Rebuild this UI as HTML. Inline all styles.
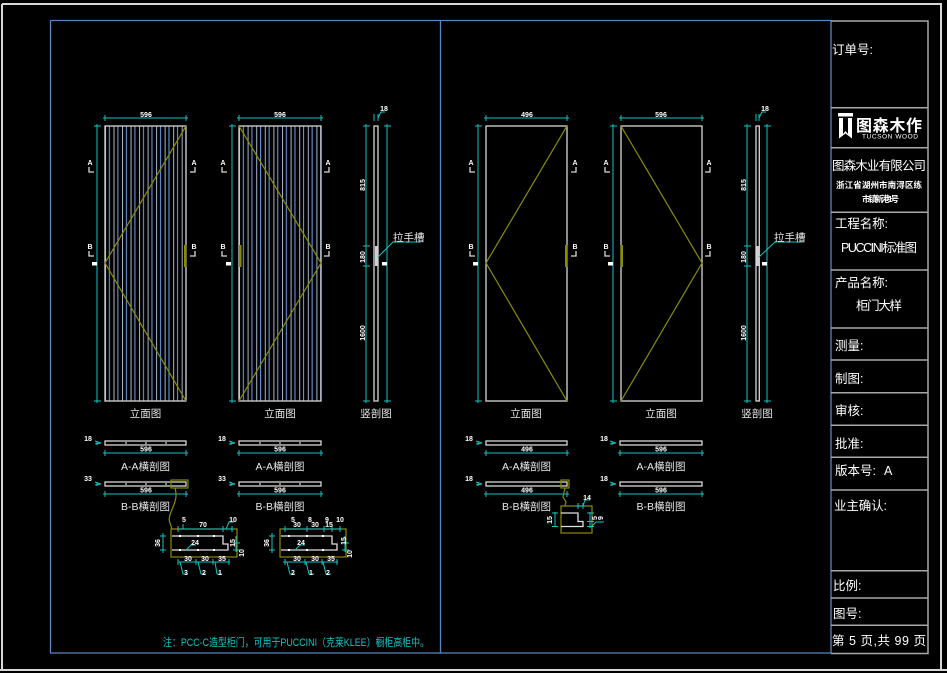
<!DOCTYPE html>
<html><head><meta charset="utf-8"><style>
html,body{margin:0;padding:0;background:#000;}
svg{display:block;}
text{font-family:"Liberation Sans","Noto Sans CJK SC",sans-serif;}
.t{fill:#fff;font-size:12.5px;}
.s{fill:#fff;font-size:7px;font-weight:bold;}
.lb{fill:#e8e8e8;font-size:10.5px;}
.c{stroke:#12c4c4;stroke-width:1;fill:none;}
.o{stroke:#8c8c00;stroke-width:1.2;fill:none;}
.w{stroke:#d8d8d8;stroke-width:1.3;fill:none;}
.g{stroke:#a8a8a8;stroke-width:1.5;fill:none;}
</style></head><body>
<svg width="947" height="673" viewBox="0 0 947 673" xmlns="http://www.w3.org/2000/svg">
<defs>
<pattern id="p1" x="105" y="0" width="8.52" height="10" patternUnits="userSpaceOnUse">
<rect x="3.8" y="0" width="1.1" height="10" fill="#6a92d8"/><rect x="0" y="0" width="1" height="10" fill="#a9b4c8"/>
</pattern>
<pattern id="p2" x="239" y="0" width="8.6" height="10" patternUnits="userSpaceOnUse">
<rect x="3.8" y="0" width="1.1" height="10" fill="#6a92d8"/><rect x="0" y="0" width="1" height="10" fill="#a9b4c8"/>
</pattern>
</defs>
<rect width="947" height="673" fill="#000"/>
<!-- outer white frame -->
<path d="M2,4 H942 M2,4 V670 M941,4 V670 M0,670 H947" stroke="#d8d8d8" stroke-width="2" fill="none"/>
<!-- blue frame -->
<path d="M50.5,20.5 H831 M50.5,20.5 V653 M50,653 H831 M831,20 V653 M440.5,20 V653" stroke="#5a85c0" stroke-width="1.3" fill="none"/>
<!-- title block -->
<path class="g" d="M831,21 H928 V653.5 H831 M831,107.7 H928 M831,147.7 H928 M831,212.3 H928 M831,270 H928 M831,328 H928 M831,360 H928 M831,392.7 H928 M831,425.3 H928 M831,457.3 H928 M831,490 H928 M831,570.7 H928 M831,598 H928 M831,625.3 H928"/>
<text class="t" x="832" y="54" font-size="13">订单号:</text>
<!-- logo -->
<path d="M838,113 H853 V116.5 H838 Z M839,118 H843 V134 L845.5,131 L848,134 V118 H852 V138.5 L845.5,133.5 L839,138.5 Z" fill="#fff"/>
<text x="856" y="131" fill="#fff" font-size="16" font-weight="bold" textLength="66">图森木作</text>
<text x="862" y="138.5" fill="#fff" font-size="6.5" textLength="56">TUCSON WOOD</text>
<text class="t" x="832" y="170" textLength="94" font-size="12">图森木业有限公司</text>
<text x="836" y="188" fill="#fff" font-size="8.5" font-weight="bold" textLength="86">浙江省湖州市南浔区练</text>
<text x="862" y="202" fill="#fff" font-size="8.5" font-weight="bold" textLength="37">市镇新港1号</text>
<text class="t" x="835" y="228" textLength="53">工程名称:</text>
<text class="t" x="841" y="252" textLength="76">PUCCINI标准图</text>
<text class="t" x="835" y="287" textLength="53">产品名称:</text>
<text class="t" x="856" y="310" font-size="13.5" textLength="46">柜门大样</text>
<text class="t" x="835" y="350">测量:</text>
<text class="t" x="835" y="383">制图:</text>
<text class="t" x="835" y="415">审核:</text>
<text class="t" x="835" y="448">批准:</text>
<text class="t" x="835" y="475">版本号:</text>
<text class="t" x="884" y="475" font-size="11">A</text>
<text class="t" x="834" y="510" textLength="53">业主确认:</text>
<text class="t" x="833" y="590">比例:</text>
<text class="t" x="833" y="618">图号:</text>
<text class="t" x="832" y="645" textLength="94">第 5 页,共 99 页</text>

<!-- ===== DOOR 1 ===== -->
<path class="c" d="M103,118 H188 M105,115 V121 M186,115 V121 M97,124 V403 M94,126 H101 M94,401 H101"/>
<text class="s" x="146" y="117" text-anchor="middle">596</text>
<rect x="105" y="126" width="81" height="275" fill="url(#p1)"/>
<rect x="105" y="126" width="81" height="275" class="w"/>
<polyline class="o" points="186,126 105,263 186,401"/>
<rect x="184" y="245" width="2.5" height="22" fill="#8c8c00"/>
<text class="s" x="90" y="165" text-anchor="middle" font-weight="normal">A</text>
<path class="w" d="M89,167 V172 H94"/>
<text class="s" x="194" y="165" text-anchor="middle" font-weight="normal">A</text>
<path class="w" d="M195,167 V172 H190"/>
<text class="s" x="90" y="249" text-anchor="middle" font-weight="normal">B</text>
<path class="w" d="M89,251 V256 H94"/>
<text class="s" x="194" y="249" text-anchor="middle" font-weight="normal">B</text>
<path class="w" d="M195,251 V256 H190"/>
<rect x="92" y="262" width="5" height="3.5" fill="#fff"/>

<!-- ===== DOOR 2 ===== -->
<path class="c" d="M237,118 H323 M239,115 V121 M321,115 V121 M232,124 V403 M229,126 H236 M229,401 H236"/>
<text class="s" x="280" y="117" text-anchor="middle">596</text>
<rect x="239" y="126" width="82" height="275" fill="url(#p2)"/>
<rect x="239" y="126" width="82" height="275" class="w"/>
<polyline class="o" points="239,126 321,263 239,401"/>
<rect x="239" y="245" width="2.5" height="22" fill="#8c8c00"/>
<text class="s" x="223" y="165" text-anchor="middle" font-weight="normal">A</text>
<path class="w" d="M222,167 V172 H227"/>
<text class="s" x="328" y="165" text-anchor="middle" font-weight="normal">A</text>
<path class="w" d="M329,167 V172 H324"/>
<text class="s" x="223" y="249" text-anchor="middle" font-weight="normal">B</text>
<path class="w" d="M222,251 V256 H227"/>
<text class="s" x="328" y="249" text-anchor="middle" font-weight="normal">B</text>
<path class="w" d="M329,251 V256 H324"/>
<rect x="226" y="262" width="5" height="3.5" fill="#fff"/>

<!-- ===== VERTICAL SECTION LEFT ===== -->
<path class="c" d="M366,124 V403 M363,126 H370 M363,246 H370 M363,266 H370 M363,401 H370 M387,124 V403 M384,126 H391 M384,401 H391 M374,114 V121 M378,114 V121 M378,118 L381,112 H385"/>
<text class="s" x="384" y="111" text-anchor="middle">18</text>
<rect x="374" y="126" width="4" height="275" class="w" stroke-width="1"/>
<rect x="375" y="246" width="3" height="20" fill="#cfcfcf"/>
<path class="c" d="M378,257 L393,242 H421"/>
<text class="lb" x="393" y="241" font-size="11">拉手槽</text>
<rect x="382" y="262" width="5" height="3.5" fill="#fff"/>
<text class="s" transform="translate(365,185) rotate(-90)" text-anchor="middle">815</text>
<text class="s" transform="translate(365,257) rotate(-90)" text-anchor="middle">180</text>
<text class="s" transform="translate(365,333) rotate(-90)" text-anchor="middle">1600</text>

<text class="lb" x="145.5" y="417" text-anchor="middle">立面图</text>
<text class="lb" x="280" y="417" text-anchor="middle">立面图</text>
<text class="lb" x="376" y="417" text-anchor="middle">竖剖图</text>

<!-- ===== DOOR 3 ===== -->
<path class="c" d="M484,118 H569 M486,115 V121 M567,115 V121 M478,124 V403 M475,126 H482 M475,401 H482"/>
<text class="s" x="527" y="117" text-anchor="middle">496</text>
<rect x="486" y="126" width="81" height="275" class="w"/>
<polyline class="o" points="567,126 486,263 567,401"/>
<rect x="565" y="245" width="2.5" height="22" fill="#8c8c00"/>
<text class="s" x="471" y="165" text-anchor="middle" font-weight="normal">A</text>
<path class="w" d="M470,167 V172 H475"/>
<text class="s" x="575" y="165" text-anchor="middle" font-weight="normal">A</text>
<path class="w" d="M576,167 V172 H571"/>
<text class="s" x="471" y="249" text-anchor="middle" font-weight="normal">B</text>
<path class="w" d="M470,251 V256 H475"/>
<text class="s" x="575" y="249" text-anchor="middle" font-weight="normal">B</text>
<path class="w" d="M576,251 V256 H571"/>
<rect x="473" y="262" width="5" height="3.5" fill="#fff"/>

<!-- ===== DOOR 4 ===== -->
<path class="c" d="M619,118 H704 M621,115 V121 M702,115 V121 M613,124 V403 M610,126 H617 M610,401 H617"/>
<text class="s" x="661" y="117" text-anchor="middle">596</text>
<rect x="621" y="126" width="81" height="275" class="w"/>
<polyline class="o" points="621,126 702,263 621,401"/>
<rect x="620.5" y="245" width="2.5" height="22" fill="#8c8c00"/>
<text class="s" x="606" y="165" text-anchor="middle" font-weight="normal">A</text>
<path class="w" d="M605,167 V172 H610"/>
<text class="s" x="709" y="165" text-anchor="middle" font-weight="normal">A</text>
<path class="w" d="M710,167 V172 H705"/>
<text class="s" x="606" y="249" text-anchor="middle" font-weight="normal">B</text>
<path class="w" d="M605,251 V256 H610"/>
<text class="s" x="709" y="249" text-anchor="middle" font-weight="normal">B</text>
<path class="w" d="M710,251 V256 H705"/>
<rect x="608" y="262" width="5" height="3.5" fill="#fff"/>

<!-- ===== VERTICAL SECTION RIGHT ===== -->
<path class="c" d="M747,124 V403 M744,126 H751 M744,246 H751 M744,266 H751 M744,401 H751 M767,124 V403 M764,126 H771 M764,401 H771 M756,114 V121 M759,114 V121 M759,118 L762,112 H766"/>
<text class="s" x="765" y="111" text-anchor="middle">18</text>
<rect x="756" y="126" width="3.3" height="275" class="w" stroke-width="1"/>
<rect x="756.5" y="246" width="2.5" height="20" fill="#cfcfcf"/>
<path class="c" d="M759,257 L775,242 H803"/>
<text class="lb" x="774" y="241" font-size="11">拉手槽</text>
<rect x="762" y="262" width="5" height="3.5" fill="#fff"/>
<text class="s" transform="translate(746,185) rotate(-90)" text-anchor="middle">815</text>
<text class="s" transform="translate(746,257) rotate(-90)" text-anchor="middle">180</text>
<text class="s" transform="translate(746,333) rotate(-90)" text-anchor="middle">1600</text>

<text class="lb" x="526" y="417" text-anchor="middle">立面图</text>
<text class="lb" x="661" y="417" text-anchor="middle">立面图</text>
<text class="lb" x="757" y="417" text-anchor="middle">竖剖图</text>

<!-- ===== SECTIONS LEFT ===== -->
<g>
<rect x="105" y="441" width="81" height="4" class="w" stroke-width="1"/>
<path d="M126,442 V444 M146,442 V444 M166,442 V444" stroke="#fff" stroke-width="1"/>
<path class="c" d="M103,453 H188 M105,450 V456 M186,450 V456 M95,441 L101,443 M95,444 L101,443 M97,441 V445"/>
<text class="s" x="146" y="451.5" text-anchor="middle">596</text>
<text class="s" x="88" y="441" text-anchor="middle">18</text>
<text class="lb" x="145.5" y="470" text-anchor="middle">A-A横剖图</text>

<rect x="105" y="482" width="81" height="4" class="w" stroke-width="1"/>
<path d="M126,483 V485 M146,483 V485 M166,483 V485" stroke="#fff" stroke-width="1"/>
<path class="c" d="M103,494 H188 M105,491 V497 M186,491 V497 M95,482 L101,484 M95,485 L101,484 M97,482 V486"/>
<text class="s" x="146" y="492.5" text-anchor="middle">596</text>
<text class="s" x="88" y="481" text-anchor="middle">33</text>
<text class="lb" x="145.5" y="510" text-anchor="middle">B-B横剖图</text>
<rect x="171" y="480" width="17" height="8" class="o"/>
<path class="o" d="M175,488 C177,495 176,500 173,507 C170,514 168,519 170,523 L172,529"/>

<rect x="239" y="441" width="82" height="4" class="w" stroke-width="1"/>
<path d="M260,442 V444 M280,442 V444 M300,442 V444" stroke="#fff" stroke-width="1"/>
<path class="c" d="M237,453 H323 M239,450 V456 M321,450 V456 M229,441 L235,443 M229,444 L235,443 M231,441 V445"/>
<text class="s" x="280" y="451.5" text-anchor="middle">596</text>
<text class="s" x="222" y="441" text-anchor="middle">18</text>
<text class="lb" x="280" y="470" text-anchor="middle">A-A横剖图</text>

<rect x="239" y="482" width="82" height="4" class="w" stroke-width="1"/>
<path d="M260,483 V485 M280,483 V485 M300,483 V485" stroke="#fff" stroke-width="1"/>
<path class="c" d="M237,494 H323 M239,491 V497 M321,491 V497 M229,482 L235,484 M229,485 L235,484 M231,482 V486"/>
<text class="s" x="280" y="492.5" text-anchor="middle">596</text>
<text class="s" x="222" y="481" text-anchor="middle">33</text>
<text class="lb" x="280" y="510" text-anchor="middle">B-B横剖图</text>
</g>

<!-- detail 1 -->
<rect x="171" y="529" width="66" height="28" class="o"/>
<path d="M172,536 H223 V544 H228 V550 H172" stroke="#e0e0e0" stroke-width="1.3" fill="none"/>
<path d="M179,535 h2 v2 h-2 z M197,535 h2 v2 h-2 z M213,535 h2 v2 h-2z M179,549 h2 v2 h-2 z M197,549 h2 v2 h-2 z M213,549 h2 v2 h-2z" fill="#fff"/>
<path class="c" d="M177,529 H233 M178,526 V532 M223,526 V532 M232,526 V532 M226,529 L229,522 H234 M183,529 L183,524 M163,533 V553 M160,536 H166 M160,550 H166 M236,536 V552 M233,543 H240 M233,550 H240 M186,550 L191,545 H196 M178,562 H230 M178,559 V565 M196,559 V565 M213,559 V565 M229,559 V565 M180,562 L183,574 H188 M198,562 L201,574 H206 M215,562 L217,574 H222"/>
<text class="s" x="184" y="522" text-anchor="middle">5</text>
<text class="s" x="203" y="527" text-anchor="middle">70</text>
<text class="s" x="233" y="522" text-anchor="middle">10</text>
<text class="s" transform="translate(160,543) rotate(-90)" text-anchor="middle">36</text>
<text class="s" transform="translate(235,543) rotate(-90)" text-anchor="middle">15</text>
<text class="s" transform="translate(244,553) rotate(-90)" text-anchor="middle">10</text>
<text class="s" x="195" y="545" text-anchor="middle">24</text>
<text class="s" x="188" y="561" text-anchor="middle">30</text>
<text class="s" x="205" y="561" text-anchor="middle">30</text>
<text class="s" x="222" y="561" text-anchor="middle">35</text>
<text class="s" x="186" y="575" text-anchor="middle">3</text>
<text class="s" x="204" y="575" text-anchor="middle">2</text>
<text class="s" x="220" y="575" text-anchor="middle">1</text>

<!-- detail 2 -->
<rect x="280" y="529" width="66" height="28" class="o"/>
<path d="M281,536 H332 V544 H337 V550 H281" stroke="#e0e0e0" stroke-width="1.3" fill="none"/>
<path d="M288,535 h2 v2 h-2 z M306,535 h2 v2 h-2 z M322,535 h2 v2 h-2z M288,549 h2 v2 h-2 z M306,549 h2 v2 h-2 z M322,549 h2 v2 h-2z" fill="#fff"/>
<path class="c" d="M283,529 H341 M285,526 V532 M307,526 V532 M324,526 V532 M332,526 V532 M340,526 V532 M272,533 V553 M269,536 H275 M269,550 H275 M345,536 V552 M342,543 H349 M342,550 H349 M295,550 L300,545 H305 M283,562 H338 M285,559 V565 M305,559 V565 M322,559 V565 M337,559 V565 M287,562 L290,574 H295 M306,562 L309,574 H314 M323,562 L326,574 H331"/>
<text class="s" x="293" y="522" text-anchor="middle">5</text>
<text class="s" x="297" y="527" text-anchor="middle">30</text>
<text class="s" x="310" y="522" text-anchor="middle">8</text>
<text class="s" x="315" y="527" text-anchor="middle">30</text>
<text class="s" x="327" y="522" text-anchor="middle">9</text>
<text class="s" x="329" y="527" text-anchor="middle">15</text>
<text class="s" x="340" y="522" text-anchor="middle">10</text>
<text class="s" transform="translate(269,543) rotate(-90)" text-anchor="middle">36</text>
<text class="s" transform="translate(346,541) rotate(-90)" text-anchor="middle">15</text>
<text class="s" transform="translate(352,554) rotate(-90)" text-anchor="middle">10</text>
<text class="s" x="301" y="545" text-anchor="middle">24</text>
<text class="s" x="297" y="561" text-anchor="middle">30</text>
<text class="s" x="315" y="561" text-anchor="middle">30</text>
<text class="s" x="331" y="561" text-anchor="middle">35</text>
<text class="s" x="293" y="575" text-anchor="middle">2</text>
<text class="s" x="311" y="575" text-anchor="middle">1</text>
<text class="s" x="328" y="575" text-anchor="middle">2</text>

<!-- ===== SECTIONS RIGHT ===== -->
<rect x="486" y="441" width="81" height="4" class="w" stroke-width="1"/>
<path class="c" d="M484,453 H569 M486,450 V456 M567,450 V456 M476,441 L482,443 M476,444 L482,443 M478,441 V445"/>
<text class="s" x="527" y="451.5" text-anchor="middle">496</text>
<text class="s" x="469" y="441" text-anchor="middle">18</text>
<text class="lb" x="526.5" y="470" text-anchor="middle">A-A横剖图</text>

<rect x="486" y="482" width="81" height="4" class="w" stroke-width="1"/>
<path class="c" d="M484,494 H569 M486,491 V497 M567,491 V497 M476,482 L482,484 M476,485 L482,484 M478,482 V486"/>
<text class="s" x="527" y="492.5" text-anchor="middle">496</text>
<text class="s" x="469" y="481" text-anchor="middle">18</text>
<text class="lb" x="526.5" y="510" text-anchor="middle">B-B横剖图</text>
<rect x="561" y="480" width="8" height="8" class="o"/>
<path class="o" d="M565,488 L563,497 L566,502 L565,506"/>

<rect x="620" y="441" width="82" height="4" class="w" stroke-width="1"/>
<path class="c" d="M618,453 H704 M620,450 V456 M702,450 V456 M610,441 L616,443 M610,444 L616,443 M612,441 V445"/>
<text class="s" x="661" y="451.5" text-anchor="middle">596</text>
<text class="s" x="604" y="441" text-anchor="middle">18</text>
<text class="lb" x="661" y="470" text-anchor="middle">A-A横剖图</text>

<rect x="620" y="482" width="82" height="4" class="w" stroke-width="1"/>
<path class="c" d="M618,494 H704 M620,491 V497 M702,491 V497 M610,482 L616,484 M610,485 L616,484 M612,482 V486"/>
<text class="s" x="661" y="492.5" text-anchor="middle">596</text>
<text class="s" x="604" y="481" text-anchor="middle">18</text>
<text class="lb" x="661" y="510" text-anchor="middle">B-B横剖图</text>

<!-- right detail -->
<rect x="561" y="506" width="31" height="27" class="o"/>
<path d="M561,513 H578 V521.5 H583 V526.5 H561" stroke="#e0e0e0" stroke-width="1.3" fill="none"/>
<path class="c" d="M578,503 V509 M583,503 V509 M576,506 H585 M583,506 L585,500 H590 M555,512 V527 M552,513 H558 M552,526.5 H558 M590,512 V528 M587,513 H594 M587,521.5 H594 M587,526.5 H594 M591,527 L596,522 H604"/>
<text class="s" x="587" y="500" text-anchor="middle">14</text>
<text class="s" transform="translate(552,520) rotate(-90)" text-anchor="middle">15</text>
<text class="s" transform="translate(597,518) rotate(-90)" text-anchor="middle">5</text>
<text class="s" transform="translate(603,518) rotate(-90)" text-anchor="middle">9</text>

<!-- note -->
<text x="163" y="646" fill="#12c4c4" font-size="11" textLength="266" lengthAdjust="spacingAndGlyphs">注：PCC-C造型柜门，可用于PUCCINI（克莱KLEE）橱柜高柜中。</text>
</svg>
</body></html>
